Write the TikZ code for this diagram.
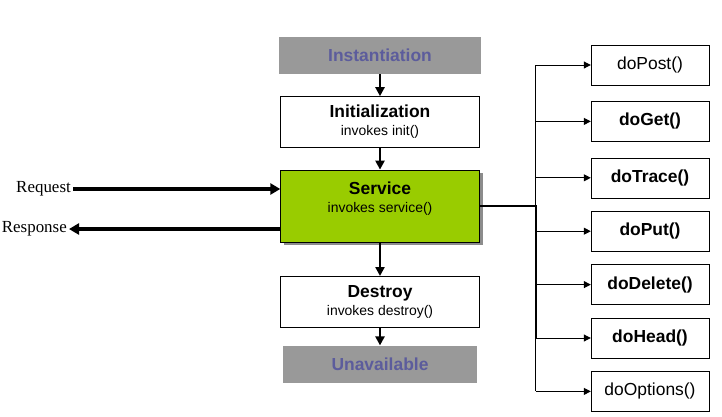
\documentclass[tikz,border=0pt]{standalone}
\usepackage{fontspec}
\setmainfont{Liberation Sans}
\newfontfamily\timesfont{Liberation Serif}
\usetikzlibrary{shapes,arrows.meta,positioning,shadows}

\definecolor{stategray}{RGB}{153,153,153}
\definecolor{statetext}{RGB}{92,92,156}
\definecolor{servicegreen}{RGB}{153,204,0}

\begin{document}
\begin{tikzpicture}[x=1bp, y=1bp,
    node distance=22bp and 56bp,
    state/.style={rectangle, fill=stategray, text=statetext, minimum width=202bp, minimum height=37bp, font=\fontsize{17.5}{20}\selectfont\bfseries},
    phase/.style={rectangle, draw, fill=white, minimum width=199bp, minimum height=51bp, align=center, font=\fontsize{14}{18}\selectfont},
    method/.style={rectangle, draw, fill=white, minimum width=118bp, minimum height=40bp, font=\fontsize{17.5}{20}\selectfont},
    client/.style={inner xsep=2bp, font=\timesfont\fontsize{17}{20}\selectfont},
    arrow/.style={-{Triangle[length=9bp,width=9bp]}, line width=2.5bp},
    bigarrow/.style={-{Triangle[length=10bp,width=11bp]}, line width=4bp},
    thinarrow/.style={-{Triangle[length=7bp,width=7bp]}, line width=1bp}
]
\useasboundingbox (0,0) rectangle (722,-416);

% Life cycle
\node[state] (instantiation) at (380,-55.5) {Instantiation};
\node[phase, below=of instantiation] (init) {{\fontsize{17.5}{18}\selectfont\bfseries Initialization}\\invokes init()};
\node[phase, below=of init, fill=servicegreen, minimum height=72bp, inner ysep=12bp, text depth=17bp,
      drop shadow={shadow xshift=3bp, shadow yshift=-3bp, fill=black!45, opacity=1}] (service) {{\fontsize{17.5}{18}\selectfont\bfseries Service}\\invokes service()};
\node[phase, below=34bp of service] (destroy) {{\fontsize{17.5}{18}\selectfont\bfseries Destroy}\\invokes destroy()};
\node[state, below=18bp of destroy, minimum width=194bp] (unavailable) {Unavailable};

% Client side
\node[client, anchor=east] (request) at (73,-189) {Request};
\node[client, anchor=east] (response) at (69,-229) {Response};

% Methods
\node[method] (dopost) at (650,-65) {doPost()};
\node[method, below=16bp of dopost, font=\fontsize{17.5}{20}\selectfont\bfseries] (doget) {doGet()};
\node[method, below=16bp of doget, font=\fontsize{17.5}{20}\selectfont\bfseries] (dotrace) {doTrace()};
\node[method, below=13bp of dotrace, font=\fontsize{17.5}{20}\selectfont\bfseries] (doput) {doPut()};
\node[method, below=13bp of doput, font=\fontsize{17.5}{20}\selectfont\bfseries] (dodelete) {doDelete()};
\node[method, below=13bp of dodelete, font=\fontsize{17.5}{20}\selectfont\bfseries] (dohead) {doHead()};
\node[method, below=13bp of dohead] (dooptions) {doOptions()};

% Arrows
\draw[arrow] (instantiation) -- (init);
\draw[arrow] (init) -- (service);
\draw[arrow] (service) -- (destroy);
\draw[arrow] (destroy) -- (unavailable);
\draw[bigarrow] (request.east) -- (request.east -| service.west);
\draw[bigarrow] (response.east -| service.west) -- (response.east);

% Dispatch to methods
\coordinate[right=of service] (bus);
\draw[line width=1bp] (bus |- dopost.west) -- (bus |- dooptions.west);
\draw[line width=2bp] (service.east) -- (bus) -- (bus |- dohead.west);
\foreach \m in {dopost,doget,dotrace,doput,dodelete,dohead,dooptions}
    \draw[thinarrow] (bus |- \m.west) -- (\m.west);

\end{tikzpicture}
\end{document}
